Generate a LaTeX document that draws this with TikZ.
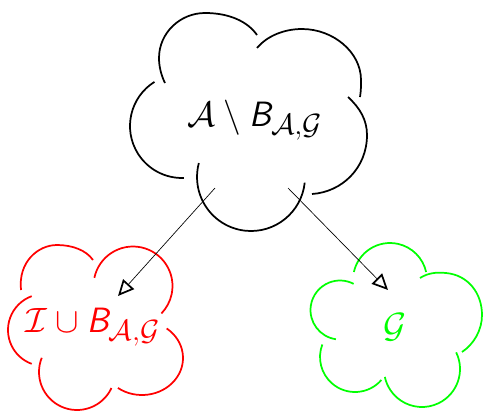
\documentclass[tikz,border=0pt]{standalone}
\usetikzlibrary{arrows.meta}
\DeclareMathAlphabet{\mathssl}{OT1}{cmss}{m}{sl}
\begin{document}
\begin{tikzpicture}[x=0.75pt,y=-0.75pt,
  lobe/.style={line width=1.3pt},
  conn/.style={line width=0.5pt,-{Triangle[open,length=12pt,width=11pt,line width=1.3pt]}},
  lbl/.style={inner sep=0pt,font=\Huge,scale=1.06}]
\useasboundingbox (0,0) rectangle (484,411);
% top cloud
\draw[lobe] (165,83) .. controls (161,75) and (159,66) .. (159,58)
  .. controls (159,33) and (180,13) .. (205,13)
  .. controls (230,13) and (248,22) .. (257,35);
\draw[lobe] (257,48) .. controls (267,36) and (284,29) .. (302,29)
  .. controls (333,29) and (361,52) .. (361,80)
  .. controls (361,86) and (361,91) .. (360,97);
\draw[lobe] (348,97) .. controls (360,108) and (367,120) .. (367,135)
  .. controls (367,168) and (342,192) .. (312,194);
\draw[lobe] ([shift={(6:54)}]251,177) arc[start angle=6, end angle=195, radius=54];
\draw[lobe] ([shift={(238:52)}]182,126) arc[start angle=238, end angle=88, radius=52];
\node[lbl] (top) at (255,120) {$\mathcal{A}\setminus \mathssl{B}_{\mathcal{A},\mathcal{G}}$};
% red cloud
\begin{scope}[red]
\draw[lobe] (21,290) .. controls (18,262) and (38,245) .. (57,245)
  .. controls (72,245) and (86,250) .. (93,260);
\draw[lobe] ([shift={(192:39.5)}]133,286) arc[start angle=192, end angle=404, radius=39.5];
\draw[lobe] ([shift={(-53:41 and 37)}]142,358) arc[start angle=-53, end angle=126, x radius=41, y radius=37];
\draw[lobe] ([shift={(25:38)}]77,372) arc[start angle=25, end angle=202, radius=38];
\draw[lobe] ([shift={(110:36)}]44,330) arc[start angle=110, end angle=250, radius=36];
\node[lbl] (red) at (93,327) {$\mathcal{I}\cup \mathssl{B}_{\mathcal{A},\mathcal{G}}$};
\end{scope}
% green cloud
\begin{scope}[green]
\draw[lobe] ([shift={(192.5:37)}]390,280) arc[start angle=192.5, end angle=347.5, radius=37];
\draw[lobe] (420,278) .. controls (428,273) and (436,272) .. (446,273)
  .. controls (468,275) and (482,293) .. (482,315)
  .. controls (482,330) and (474,344) .. (462,352);
\draw[lobe] ([shift={(-26:38)}]422,369) arc[start angle=-26, end angle=168, radius=38];
\draw[lobe] ([shift={(41:35)}]355,357) arc[start angle=41, end angle=201, radius=35];
\draw[lobe] ([shift={(98:29.5)}]340,310) arc[start angle=98, end angle=297.5, radius=29.5];
\node[lbl] (grn) at (395,327) {$\mathcal{G}$};
\end{scope}
% connectors
\coordinate (s1) at (215,188);
\coordinate (t1) at (118,296);
\coordinate (s2) at (288,188);
\coordinate (t2) at (388,290);
\draw[conn] (s1) -- (t1);
\draw[conn] (s2) -- (t2);
\end{tikzpicture}
\end{document}
